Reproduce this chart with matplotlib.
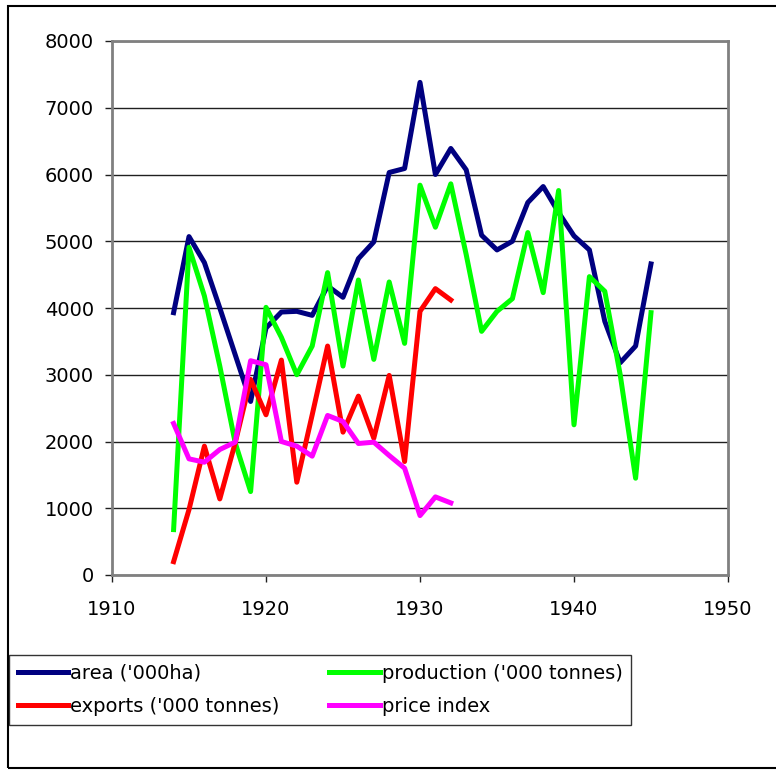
import matplotlib
matplotlib.use("Agg")
import matplotlib.pyplot as plt
from matplotlib.patches import Rectangle

plt.rcParams['font.family'] = ['DejaVu Sans']

years = list(range(1914, 1946))
years_short = list(range(1914, 1933))

area = [3930, 5070, 4680, 4000, 3300, 2600, 3700, 3940, 3950, 3890,
        4330, 4160, 4740, 4990, 6030, 6090, 7380, 6000, 6390, 6070,
        5090, 4870, 5000, 5580, 5820, 5430, 5080, 4870, 3800, 3180,
        3430, 4660]
production = [680, 4910, 4180, 3130, 1980, 1250, 4010, 3560, 3000, 3430,
              4530, 3130, 4420, 3230, 4390, 3470, 5840, 5210, 5860, 4800,
              3650, 3950, 4140, 5130, 4230, 5760, 2250, 4470, 4250, 3000,
              1450, 3930]
exports = [200, 980, 1930, 1140, 1980, 2930, 2400, 3220, 1390, 2400,
           3430, 2140, 2680, 2050, 2990, 1700, 3950, 4290, 4120]
price_index = [2270, 1740, 1690, 1880, 1990, 3210, 3150, 2000, 1930, 1780,
               2390, 2300, 1970, 1990, 1790, 1600, 890, 1170, 1080]

W, H = 776, 770
fig = plt.figure(figsize=(W / 100, H / 100), dpi=100)
ax = fig.add_axes([112 / W, 1 - 575 / H, (728 - 112) / W, (575 - 41) / H])

lw = 3.6
ax.plot(years, area, color='#000080', lw=lw, label="area ('000ha)")
ax.plot(years, production, color='#00FF00', lw=lw, label="production ('000 tonnes)")
ax.plot(years_short, exports, color='#FF0000', lw=lw, label="exports ('000 tonnes)")
ax.plot(years_short, price_index, color='#FF00FF', lw=lw, label="price index")

ax.set_xlim(1910, 1950)
ax.set_ylim(0, 8000)
ax.set_xticks(range(1910, 1951, 10))
ax.set_yticks(range(0, 8001, 1000))
ax.grid(axis='y', color='#202020', lw=1)
ax.set_axisbelow(True)
for s in ax.spines.values():
    s.set_color('#808080')
    s.set_linewidth(2)
ax.tick_params(axis='both', direction='out', length=5, width=1, color='#202020',
               labelsize=14)
ax.tick_params(axis='x', pad=13)
ax.tick_params(axis='y', pad=8)

# legend order: area, production / exports, price
h, l = ax.get_legend_handles_labels()
order = [0, 2, 1, 3]
leg = fig.legend([h[i] for i in order], [l[i] for i in order], ncol=2,
                 loc='upper left', bbox_to_anchor=(9 / W, 1 - 655 / H),
                 fontsize=14, frameon=True, fancybox=False, edgecolor='black',
                 borderpad=0.45, handlelength=2.6, handletextpad=0.1,
                 labelspacing=0.72, columnspacing=2.55, borderaxespad=0)
leg.get_frame().set_linewidth(1)

fig.patches.append(Rectangle((8 / W, 1 - 768 / H), 1.0, (768 - 6) / H,
                             transform=fig.transFigure, fill=False,
                             edgecolor='black', lw=1.5))

fig.savefig("out.png", dpi=100)
